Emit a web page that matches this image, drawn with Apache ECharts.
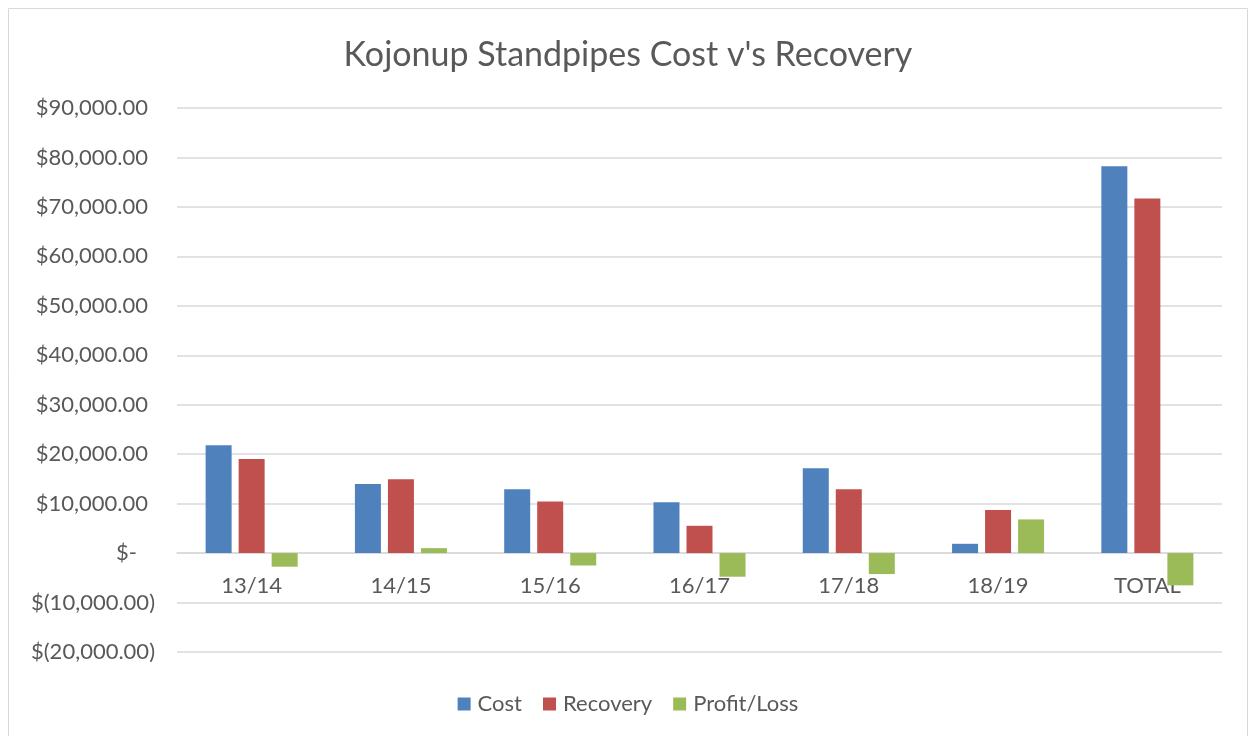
<!DOCTYPE html>
<html>
<head>
<meta charset="utf-8">
<script src="https://cdn.jsdelivr.net/npm/echarts@6/dist/echarts.min.js"></script>
<style>
html,body{margin:0;padding:0;background:#fff;}
#chart{width:1256px;height:736px;}
</style>
</head>
<body>
<div id="chart"></div>
<script>
const categories = ['13/14', '14/15', '15/16', '16/17', '17/18', '18/19', 'TOTAL'];
const costValues = [21800, 13950, 12930, 10300, 17170, 1880, 78240];
const recoveryValues = [19050, 14950, 10420, 5520, 12930, 8690, 71720];
const profitLossValues = [-2750, 1000, -2510, -4780, -4240, 6810, -6520];
const yTickValues = [-20000, -10000, 0, 10000, 20000, 30000, 40000, 50000, 60000, 70000, 80000, 90000];
const yTickLabels = ['$(20,000.00)', '$(10,000.00)', '$-', '$10,000.00', '$20,000.00', '$30,000.00', '$40,000.00', '$50,000.00', '$60,000.00', '$70,000.00', '$80,000.00', '$90,000.00'];

const FONT = 'Lato';
const TXT = '#595959';
const chart = echarts.init(document.getElementById('chart'));
chart.setOption({
  animation: false,
  backgroundColor: '#ffffff',
  title: {
    text: "Kojonup Standpipes Cost v's Recovery",
    left: 'center',
    top: 33,
    textStyle: { fontFamily: FONT, fontSize: 34, fontWeight: 'normal', color: TXT }
  },
  graphic: [{
    type: 'rect',
    shape: { x: 8.5, y: 8.5, width: 1239, height: 740 },
    style: { fill: 'none', stroke: '#D9D9D9', lineWidth: 1 },
    silent: true
  }],
  legend: {
    top: 688,
    left: 'center',
    itemWidth: 13,
    itemHeight: 13,
    itemGap: 21,
    icon: 'rect',
    textStyle: { fontFamily: FONT, fontSize: 22, color: TXT, padding: [0, 0, 0, 2] },
    data: ['Cost', 'Recovery', 'Profit/Loss']
  },
  grid: { left: 177, right: 34, top: 108, bottom: 84, containLabel: false },
  xAxis: {
    type: 'category',
    data: categories,
    offset: -99,
    axisLine: { onZero: false, lineStyle: { color: '#D9D9D9', width: 1.5 } },
    axisTick: { show: false },
    axisLabel: { fontFamily: FONT, fontSize: 22, color: TXT, margin: 22 }
  },
  yAxis: {
    type: 'value',
    min: -20000,
    max: 90000,
    interval: 10000,
    axisLine: { show: false },
    axisTick: { show: false },
    splitLine: { lineStyle: { color: '#D9D9D9', width: 1.5 } },
    axisLabel: {
      fontFamily: FONT, fontSize: 22, color: TXT, margin: 22,
      formatter: function (v) {
        const i = yTickValues.indexOf(v);
        if (i < 0) return '';
        if (v < 0) return '{n|' + yTickLabels[i] + '}';
        if (v === 0) return '{z|' + yTickLabels[i] + '}';
        return '{p|' + yTickLabels[i] + '}';
      },
      rich: {
        n: { fontFamily: FONT, fontSize: 22, color: TXT },
        z: { fontFamily: FONT, fontSize: 22, color: TXT, padding: [0, 18, 0, 0] },
        p: { fontFamily: FONT, fontSize: 22, color: TXT, padding: [0, 7, 0, 0] }
      }
    }
  },
  series: [
    { name: 'Cost', type: 'bar', data: costValues, barWidth: 26, barGap: '27%', itemStyle: { color: '#4F81BD' } },
    { name: 'Recovery', type: 'bar', data: recoveryValues, barWidth: 26, barGap: '27%', itemStyle: { color: '#C0504D' } },
    { name: 'Profit/Loss', type: 'bar', data: profitLossValues, barWidth: 26, barGap: '27%', itemStyle: { color: '#9BBB59' } }
  ]
});
</script>
</body>
</html>
